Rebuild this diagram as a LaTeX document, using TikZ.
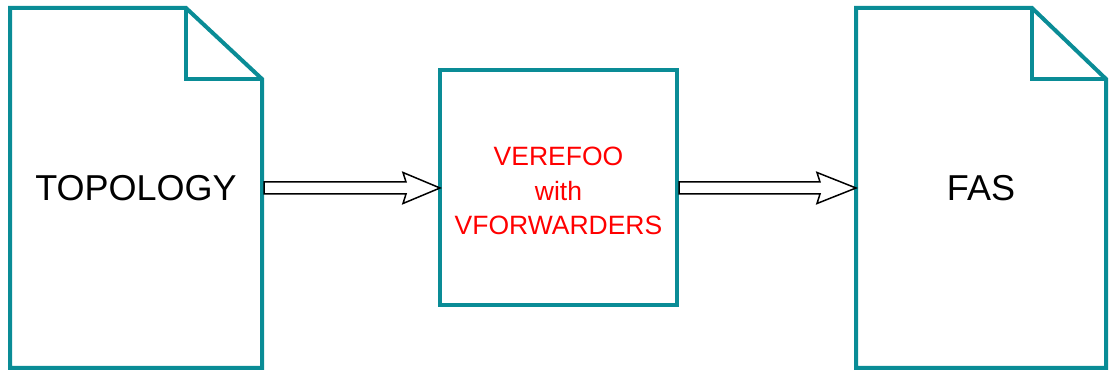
\documentclass[tikz,border=0pt]{standalone}
\usepackage{fontspec}
\setmainfont{Liberation Sans}
\usetikzlibrary{calc,positioning}

\definecolor{docteal}{RGB}{10,140,150}

\begin{document}
\begin{tikzpicture}[x=1pt, y=1pt,
        node distance = 178pt,
        every node/.style = {outer sep=0pt, inner sep=0pt},
        docnode/.style = {minimum width=252pt, minimum height=360pt,
                font=\fontsize{36}{42}\selectfont},
        boxnode/.style = {draw=docteal, line width=4pt, minimum width=237pt,
                minimum height=235pt},
        redtext/.style = {align=center, text=red, yshift=-3pt,
                font=\fontsize{26.5}{34.5}\selectfont},
        outline/.style = {draw=docteal, line width=4pt},
        hollow/.style = {draw=black, line width=1.5pt, fill=white},
    ]
        \useasboundingbox (0,0) rectangle (1109,372);

        \node[docnode] (topo) at (136,184) {TOPOLOGY};
        \node[boxnode, right=of topo,
            label={[redtext]center:VEREFOO\\with\\VFORWARDERS}] (verefoo) {};
        \node[docnode, minimum width=250pt, right=179pt of verefoo] (fas) {FAS};

        % documents with a folded corner
        \draw[outline] (topo.south west) -- (topo.north west)
            -- ($(topo.north east)+(-76,0)$) -- ($(topo.north east)+(0,-71)$)
            -- (topo.south east) -- cycle;
        \draw[outline] ($(topo.north east)+(-76,0)$) |- ($(topo.north east)+(0,-71)$);
        \draw[outline] (fas.south west) -- (fas.north west)
            -- ($(fas.north east)+(-74,0)$) -- ($(fas.north east)+(0,-71)$)
            -- (fas.south east) -- cycle;
        \draw[outline] ($(fas.north east)+(-74,0)$) |- ($(fas.north east)+(0,-71)$);

        % hollow arrows
        \draw[hollow] ($(topo.east)+(2,6)$) -- ($(verefoo.west)+(-34,6)$)
            -- ($(verefoo.west)+(-37,15.5)$) -- (verefoo.west)
            -- ($(verefoo.west)+(-37,-15.5)$) -- ($(verefoo.west)+(-34,-6)$)
            -- ($(topo.east)+(2,-6)$) -- cycle;
        \draw[hollow] ($(verefoo.east)+(2,6)$) -- ($(fas.west)+(-36,6)$)
            -- ($(fas.west)+(-39,15.5)$) -- (fas.west)
            -- ($(fas.west)+(-39,-15.5)$) -- ($(fas.west)+(-36,-6)$)
            -- ($(verefoo.east)+(2,-6)$) -- cycle;
    \end{tikzpicture}
\end{document}
